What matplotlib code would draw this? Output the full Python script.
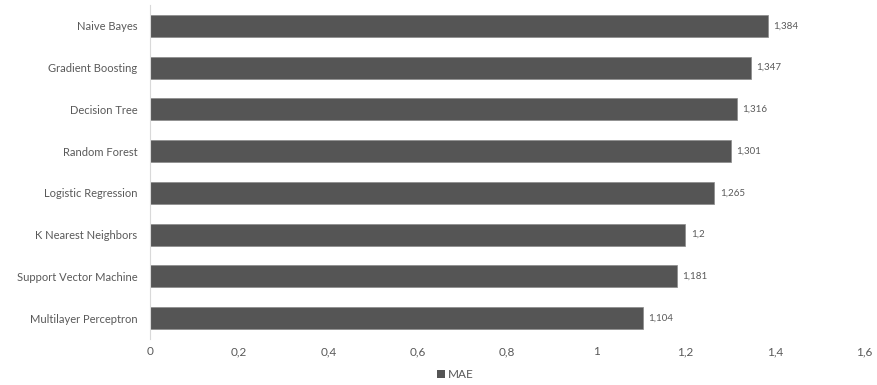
import matplotlib
matplotlib.use("Agg")
import matplotlib.pyplot as plt
from matplotlib.ticker import FuncFormatter
from matplotlib.patches import Patch

models = ["Naive Bayes", "Gradient Boosting", "Decision Tree", "Random Forest",
          "Logistic Regression", "K Nearest Neighbors", "Support Vector Machine",
          "Multilayer Perceptron"]
mae = [1.384, 1.347, 1.316, 1.301, 1.265, 1.2, 1.181, 1.104]
x_ticks = [0, 0.2, 0.4, 0.6, 0.8, 1.0, 1.2, 1.4, 1.6]

plt.rcParams["font.family"] = ["Lato", "DejaVu Sans"]
text_color = "#595959"
bar_color = "#555555"

def comma(v):
    return f"{v:g}".replace(".", ",")

fig = plt.figure(figsize=(8.78, 3.85), dpi=100)
ax = fig.add_axes([0.1708, 0.1195, 0.8132, 0.8675])

ypos = list(range(len(models)))
bars = ax.barh(ypos, mae, height=0.53, color=bar_color,
               edgecolor="#8a8a8a", linewidth=0.5)
ax.set_ylim(len(models) - 0.5, -0.5)
ax.set_xlim(0, 1.6)
ax.set_yticks(ypos)
ax.set_yticklabels(models, fontsize=8.0, color=text_color)
ax.set_xticks(x_ticks)
ax.xaxis.set_major_formatter(FuncFormatter(lambda v, p: comma(round(v, 2))))
ax.tick_params(axis="both", length=0, colors=text_color)
ax.tick_params(axis="x", labelsize=8.5, pad=5)
ax.tick_params(axis="y", pad=9)

for s in ["top", "right", "bottom"]:
    ax.spines[s].set_visible(False)
ax.spines["left"].set_color("#d9d9d9")
ax.spines["left"].set_linewidth(0.8)

for b, v in zip(bars, mae):
    ax.text(b.get_width() + 0.012, b.get_y() + b.get_height() / 2, comma(v),
            va="center", ha="left", fontsize=7, color=text_color)

fig.legend(handles=[Patch(facecolor=bar_color, label="MAE")],
           loc="center", bbox_to_anchor=(455 / 878, 0.026), frameon=False,
           fontsize=8.5, handlelength=0.7, handleheight=0.7, handletextpad=0.2,
           labelcolor=text_color)

fig.savefig("out.png", dpi=100)
